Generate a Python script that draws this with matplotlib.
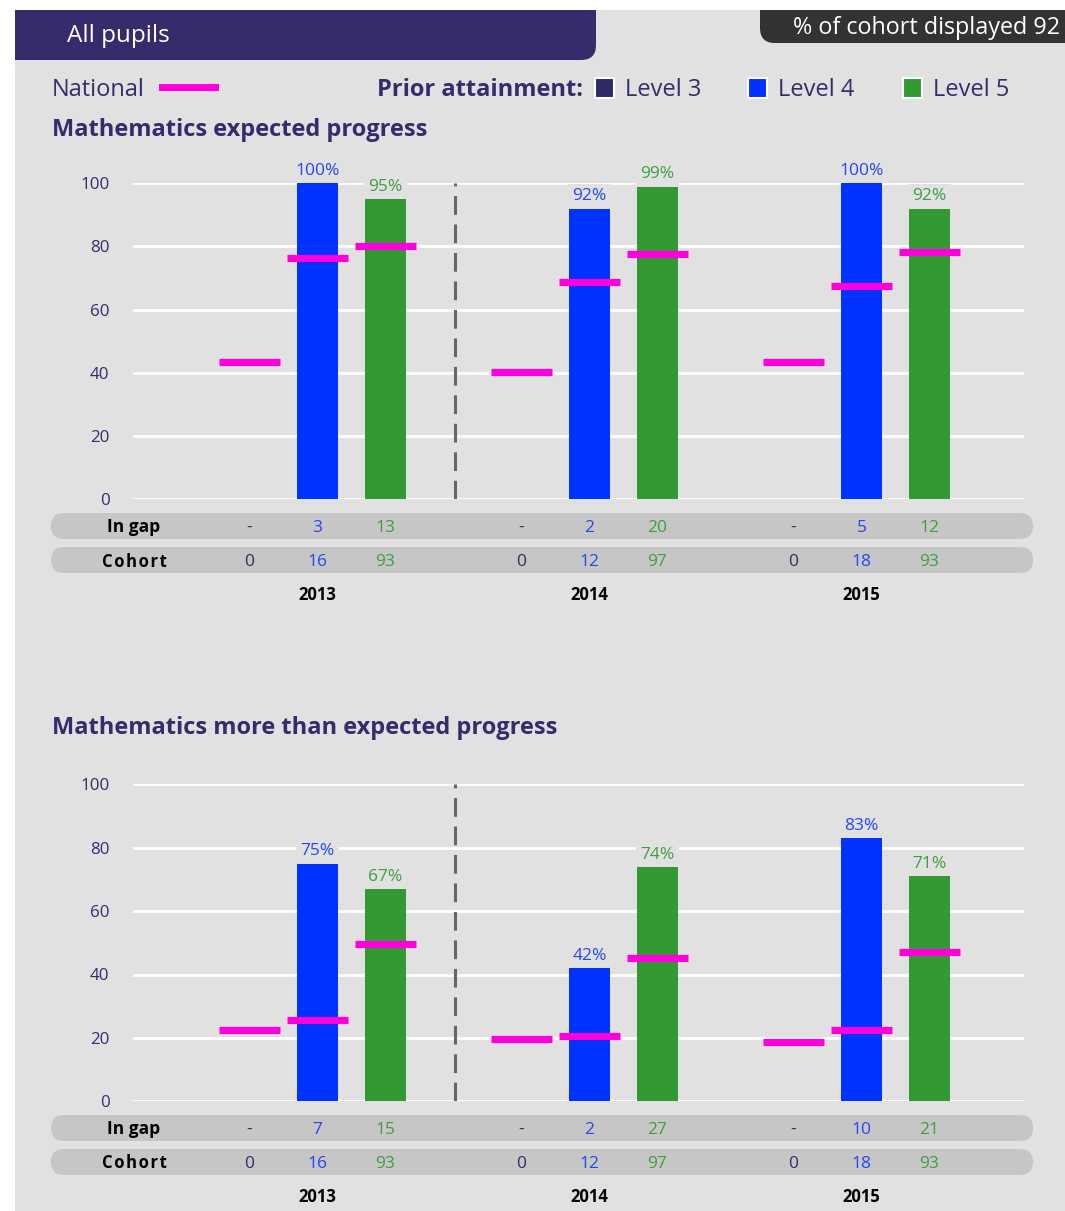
import matplotlib
matplotlib.use("Agg")
import matplotlib.pyplot as plt
from matplotlib.patches import FancyBboxPatch, Rectangle
from matplotlib.transforms import blended_transform_factory

plt.rcParams['font.family'] = ['Open Sans', 'DejaVu Sans']
plt.rcParams['lines.scale_dashes'] = False

# ---------------- data ----------------
years = ["2013", "2014", "2015"]
levels = ["Level 3", "Level 4", "Level 5"]

ep_bars_l4 = [100, 92, 100]
ep_bars_l5 = [95, 99, 92]
ep_nat_l3 = [43.5, 40.4, 43.5]
ep_nat_l4 = [76.3, 68.8, 67.5]
ep_nat_l5 = [80.1, 77.6, 78.2]
ep_gap_l3 = ["-", "-", "-"]
ep_gap_l4 = ["3", "2", "5"]
ep_gap_l5 = ["13", "20", "12"]

mep_bars_l4 = [75, 42, 83]
mep_bars_l5 = [67, 74, 71]
mep_nat_l3 = [22.6, 19.5, 18.8]
mep_nat_l4 = [25.8, 20.7, 22.6]
mep_nat_l5 = [49.7, 45.3, 47.2]
mep_gap_l3 = ["-", "-", "-"]
mep_gap_l4 = ["7", "2", "10"]
mep_gap_l5 = ["15", "27", "21"]

cohort_l3 = ["0", "0", "0"]
cohort_l4 = ["16", "12", "18"]
cohort_l5 = ["93", "97", "93"]

yticks = [0, 20, 40, 60, 80, 100]
cohort_pct = 92

# ---------------- styles ----------------
W, H = 1065, 1211
PANEL = "#e1e1e1"
PURPLE = "#352c6c"
L3C = "#2e2a6a"
BLUE = "#0033ff"
GREEN = "#339933"
BLUE_T = "#2447f0"
GREEN_T = "#3f9f3f"
MAG = "#ff00dd"
ROW = "#c6c6c6"

fig = plt.figure(figsize=(W / 100, H / 100), dpi=100, facecolor="white")


def fx(px):
    return px / W


def fy(py):
    return 1 - py / H


# gray panel
fig.patches.append(Rectangle((fx(15), 0), fx(1065) - fx(15), fy(10), transform=fig.transFigure,
                             facecolor=PANEL, edgecolor="none", zorder=0))

# header (purple) with rounded bottom-right corner
fig.patches.append(FancyBboxPatch((fx(15), fy(60)), fx(596) - fx(15), fy(10) - fy(60),
                                  boxstyle="round,pad=0,rounding_size=0.014",
                                  transform=fig.transFigure, facecolor=PURPLE, edgecolor="none",
                                  mutation_aspect=W / H, zorder=1))
fig.patches.append(Rectangle((fx(15), fy(35)), fx(596) - fx(15), fy(10) - fy(35), transform=fig.transFigure,
                             facecolor=PURPLE, edgecolor="none", zorder=1))
fig.patches.append(Rectangle((fx(15), fy(60)), fx(300) - fx(15), fy(10) - fy(60), transform=fig.transFigure,
                             facecolor=PURPLE, edgecolor="none", zorder=1))
fig.text(fx(67), fy(35.5), "All pupils", color="white", fontsize=17.5, va="center", ha="left")

# dark box with rounded bottom-left corner
DARK = "#333333"
fig.patches.append(FancyBboxPatch((fx(760), fy(43)), fx(1065) - fx(760), fy(10) - fy(43),
                                  boxstyle="round,pad=0,rounding_size=0.014",
                                  transform=fig.transFigure, facecolor=DARK, edgecolor="none",
                                  mutation_aspect=W / H, zorder=1))
fig.patches.append(Rectangle((fx(760), fy(25)), fx(1065) - fx(760), fy(10) - fy(25), transform=fig.transFigure,
                             facecolor=DARK, edgecolor="none", zorder=1))
fig.patches.append(Rectangle((fx(900), fy(43)), fx(1065) - fx(900), fy(10) - fy(43), transform=fig.transFigure,
                             facecolor=DARK, edgecolor="none", zorder=1))
fig.text(fx(1060), fy(28), f"% of cohort displayed {cohort_pct}", color="white", fontsize=16.8,
         va="center", ha="right")

# legend row
fig.text(fx(52), fy(90), "National", color=PURPLE, fontsize=17, va="center", ha="left")
fig.patches.append(Rectangle((fx(159), fy(91)), fx(219) - fx(159), fy(84) - fy(91), transform=fig.transFigure,
                             facecolor=MAG, edgecolor="none", zorder=2))
fig.text(fx(583), fy(90), "Prior attainment:", color=PURPLE, fontsize=17, fontweight="bold",
         va="center", ha="right")
for lx, col, lab in [(595, L3C, levels[0]), (748, BLUE, levels[1]), (903, GREEN, levels[2])]:
    fig.patches.append(Rectangle((fx(lx), fy(98)), fx(lx + 19) - fx(lx), fy(78) - fy(98),
                                 transform=fig.transFigure, facecolor=col, edgecolor="white",
                                 linewidth=1.5, zorder=2))
    fig.text(fx(lx + 30), fy(90), lab, color=PURPLE, fontsize=17, va="center", ha="left")

# ---------------- charts ----------------
offsets = [-0.25, 0.0, 0.25]
bar_w = 41 / 272
nat_w = 61 / 272
x0_data = (133 - 317.5) / 272
x1_data = (1024 - 317.5) / 272


def draw_chart(title, title_y, top_px, bot_px, bars4, bars5, nat3, nat4, nat5, gap3, gap4, gap5):
    fig.text(fx(52), fy(title_y), title, color=PURPLE, fontsize=17, fontweight="bold",
             va="center", ha="left")
    ax = fig.add_axes([fx(133), fy(bot_px), fx(1024) - fx(133), fy(top_px) - fy(bot_px)])
    ax.set_zorder(5)
    ax.set_facecolor("none")
    ax.set_xlim(x0_data, x1_data)
    ax.set_ylim(0, 100)
    for s in ax.spines.values():
        s.set_visible(False)
    ax.set_xticks([])
    ax.set_yticks(yticks)
    ax.set_yticklabels([str(t) for t in yticks])
    ax.tick_params(axis="y", length=0, pad=17, labelsize=12.2, labelcolor=PURPLE)
    for t in yticks:
        ax.axhline(t, color="white", lw=2.0, zorder=1)

    xs = list(range(len(years)))
    x4 = [x + offsets[1] for x in xs]
    x5 = [x + offsets[2] for x in xs]
    ax.bar(x4, bars4, width=bar_w, color=BLUE, zorder=3)
    ax.bar(x5, bars5, width=bar_w, color=GREEN, zorder=3)

    for xi, v in zip(x4, bars4):
        ax.annotate(f"{v}%", (xi, v), xytext=(0, 3), textcoords="offset points", ha="center",
                    va="bottom", color=BLUE_T, fontsize=12.5, zorder=4,
                    bbox=dict(boxstyle="square,pad=0.25", fc=PANEL, ec="none"))
    for xi, v in zip(x5, bars5):
        ax.annotate(f"{v}%", (xi, v), xytext=(0, 3), textcoords="offset points", ha="center",
                    va="bottom", color=GREEN_T, fontsize=12.5, zorder=4,
                    bbox=dict(boxstyle="square,pad=0.25", fc=PANEL, ec="none"))

    for off, nat in zip(offsets, [nat3, nat4, nat5]):
        for x, v in zip(xs, nat):
            ax.plot([x + off - nat_w / 2, x + off + nat_w / 2], [v, v], color=MAG, lw=5.2,
                    solid_capstyle="butt", zorder=5)

    ax.axvline(0.507, ymin=0, ymax=1, color="#666666", lw=2.2, dashes=(13.5, 7), zorder=2)

    # table rows
    shift = bot_px - 499.3
    for rc in [526, 560]:
        fig.patches.append(FancyBboxPatch((fx(51), fy(rc + shift + 13)), fx(1033) - fx(51),
                                          fy(rc - 13) - fy(rc + 13),
                                          boxstyle="round,pad=0,rounding_size=0.0122",
                                          transform=fig.transFigure, facecolor=ROW, edgecolor="none",
                                          mutation_aspect=W / H, zorder=1))
    tr = blended_transform_factory(ax.transData, ax.transAxes)
    axh = bot_px - top_px

    def ya(py):
        return -(py - 499.3) / axh

    fig.text(fx(134), fy(527.5 + shift), "In gap", color="black", fontsize=12.5,
             fontweight="bold", ha="center", va="center", zorder=6)
    fig.text(fx(134), fy(561.5 + shift), "C o h o r t".replace(" ", "\u200a"), color="black", fontsize=12,
             fontweight="bold", ha="center", va="center", zorder=6)
    for i, x in enumerate(xs):
        for off, col, g, c in [(offsets[0], PURPLE, gap3[i], cohort_l3[i]),
                               (offsets[1], BLUE_T, gap4[i], cohort_l4[i]),
                               (offsets[2], GREEN_T, gap5[i], cohort_l5[i])]:
            ax.text(x + off, ya(527.5), g, transform=tr, color=col, fontsize=12.5, ha="center",
                    va="center", clip_on=False)
            ax.text(x + off, ya(561.5), c, transform=tr, color=col, fontsize=12.5, ha="center",
                    va="center", clip_on=False)
        ax.text(x, ya(595), years[i], transform=tr, color="black", fontsize=12, fontweight="bold",
                ha="center", va="center", clip_on=False)
    return ax


draw_chart("Mathematics expected progress", 129.5, 183.3, 499.3,
           ep_bars_l4, ep_bars_l5, ep_nat_l3, ep_nat_l4, ep_nat_l5, ep_gap_l3, ep_gap_l4, ep_gap_l5)
draw_chart("Mathematics more than expected progress", 727.5, 784.3, 1101.3,
           mep_bars_l4, mep_bars_l5, mep_nat_l3, mep_nat_l4, mep_nat_l5, mep_gap_l3, mep_gap_l4, mep_gap_l5)

fig.savefig("out.png", dpi=100, facecolor="white")
